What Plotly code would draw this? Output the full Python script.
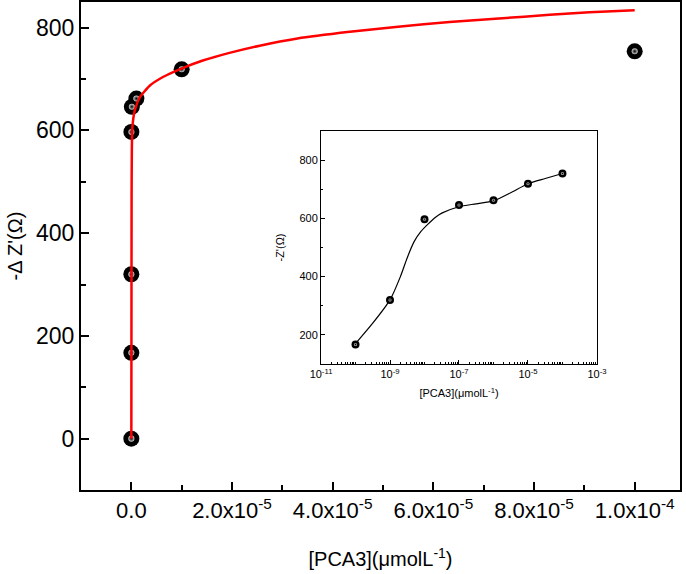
import plotly.graph_objects as go

# ---- data ----
conc_main = [0, 1e-10, 1e-9, 1e-8, 1e-7, 1e-6, 1e-5, 1e-4]
dz_main = [0, 167, 320, 597, 646, 662, 719, 754]

fit_x = [0, 5e-8, 1e-7, 2e-7, 6.6e-7, 1.65e-6, 3.64e-6, 6.28e-6, 9.6e-6,
         1.42e-5, 1.95e-5, 2.55e-5, 3.3e-5, 4.34e-5, 5.3e-5, 6.32e-5,
         7.3e-5, 8.31e-5, 9.1e-5, 1e-4]
fit_y = [0, 470, 560, 605, 638, 664, 687, 704, 719,
         736, 751, 765, 779, 792, 802, 811,
         818, 825, 830, 834]

conc_inset = [1e-10, 1e-9, 1e-8, 1e-7, 1e-6, 1e-5, 1e-4]
dz_inset = [167, 320, 597, 646, 662, 719, 754]

curve_inset_x = [1e-10, 3.16e-10, 1e-9, 2e-9, 3.16e-9, 5e-9, 7.9e-9, 1.26e-8,
                 2e-8, 3.16e-8, 1e-7, 3.16e-7, 1e-6, 3.16e-6, 1e-5, 3.16e-5, 1e-4]
curve_inset_y = [170, 240, 320, 400, 465, 520, 555, 580,
                 602, 618, 640, 650, 660, 688, 719, 737, 754]

main_xticks = [0, 2e-5, 4e-5, 6e-5, 8e-5, 1e-4]
main_xticktext = ["0.0", "2.0x10<sup>-5</sup>", "4.0x10<sup>-5</sup>",
                  "6.0x10<sup>-5</sup>", "8.0x10<sup>-5</sup>", "1.0x10<sup>-4</sup>"]
main_yticks = [0, 200, 400, 600, 800]

inset_xticks = [1e-11, 1e-9, 1e-7, 1e-5, 1e-3]
inset_xticktext = ["10<sup>-11</sup>", "10<sup>-9</sup>", "10<sup>-7</sup>",
                   "10<sup>-5</sup>", "10<sup>-3</sup>"]
inset_yticks = [200, 400, 600, 800]

FONT = "Liberation Sans, Arial, sans-serif"


def ball_traces(x, y, size, xa, ya):
    base = go.Scatter(
        x=x, y=y, mode="markers",
        marker=dict(size=size, color="#000000", line=dict(width=0)),
        showlegend=False, hoverinfo="skip", xaxis=xa, yaxis=ya)
    shine = go.Scatter(
        x=x, y=y, mode="markers",
        marker=dict(size=size * 0.38, color="#d0d0d0",
                    gradient=dict(type="radial", color="#000000"),
                    line=dict(width=0)),
        showlegend=False, xaxis=xa, yaxis=ya)
    return [base, shine]


fig = go.Figure()

for t in ball_traces(conc_main, dz_main, 16, "x", "y"):
    fig.add_trace(t)
fig.add_trace(go.Scatter(
    x=fit_x, y=fit_y, mode="lines",
    line=dict(color="#ff0000", width=2.5, shape="spline", smoothing=0.5),
    showlegend=False, xaxis="x", yaxis="y"))

fig.add_trace(go.Scatter(
    x=curve_inset_x, y=curve_inset_y, mode="lines",
    line=dict(color="#000000", width=1.2, shape="spline", smoothing=0.7),
    showlegend=False, xaxis="x2", yaxis="y2"))
for t in ball_traces(conc_inset, dz_inset, 8, "x2", "y2"):
    fig.add_trace(t)

fig.update_layout(
    width=686, height=574,
    margin=dict(l=81, r=6, t=2, b=84),
    plot_bgcolor="white", paper_bgcolor="white",
    font=dict(family=FONT, color="black"),
    xaxis=dict(
        domain=[0, 1], range=[-1.0e-5, 1.09e-4], automargin=False,
        tickmode="array", tickvals=main_xticks, ticktext=main_xticktext,
        ticks="inside", ticklen=8, tickwidth=2, tickcolor="black",
        minor=dict(ticks="inside", ticklen=5, tickwidth=2, dtick=1e-5, tick0=0,
                   tickcolor="black"),
        showline=True, linewidth=2, linecolor="black", mirror=True,
        showgrid=False, zeroline=False,
        tickfont=dict(size=22, family=FONT, color="black"),
        title=dict(text="[PCA3](μmolL<sup>-1</sup>)",
                   font=dict(size=20, family=FONT, color="black"), standoff=30),
    ),
    yaxis=dict(
        domain=[0, 1], range=[-100, 850], automargin=False,
        tickmode="array", tickvals=main_yticks,
        ticks="inside", ticklen=8, tickwidth=2, tickcolor="black",
        minor=dict(ticks="inside", ticklen=5, tickwidth=2, dtick=100, tick0=0,
                   tickcolor="black"),
        showline=True, linewidth=2, linecolor="black", mirror=True,
        showgrid=False, zeroline=False,
        tickfont=dict(size=23, family=FONT, color="black"),
        title=dict(text="-Δ Z'(Ω)", font=dict(size=20, family=FONT, color="black"),
                   standoff=8),
    ),
    xaxis2=dict(
        domain=[0.4007, 0.8614], anchor="y2", type="log", range=[-11, -3],
        automargin=False,
        tickmode="array", tickvals=inset_xticks, ticktext=inset_xticktext,
        ticks="inside", ticklen=4, tickwidth=1, tickcolor="black",
        minor=dict(ticks="inside", ticklen=2, tickwidth=1, dtick="D1",
                   tickcolor="black"),
        showline=True, linewidth=1, linecolor="black", mirror=True,
        showgrid=False, zeroline=False,
        tickfont=dict(size=11, family=FONT, color="black"),
        title=dict(text="[PCA3](μmolL<sup>-1</sup>)",
                   font=dict(size=11, family=FONT, color="black"), standoff=10),
    ),
    yaxis2=dict(
        domain=[0.2582, 0.7357], anchor="x2", range=[100, 900], automargin=False,
        tickmode="array", tickvals=inset_yticks,
        ticks="inside", ticklen=4, tickwidth=1, tickcolor="black",
        minor=dict(ticks="inside", ticklen=2, tickwidth=1, dtick=100, tick0=0,
                   tickcolor="black"),
        showline=True, linewidth=1, linecolor="black", mirror=True,
        showgrid=False, zeroline=False,
        tickfont=dict(size=11, family=FONT, color="black"),
        title=dict(text="-Z'(Ω)", font=dict(size=11, family=FONT, color="black"),
                   standoff=12),
    ),
)

fig.write_html("out.html", config={"displayModeBar": False},
               post_script="document.body.style.margin='0';")
